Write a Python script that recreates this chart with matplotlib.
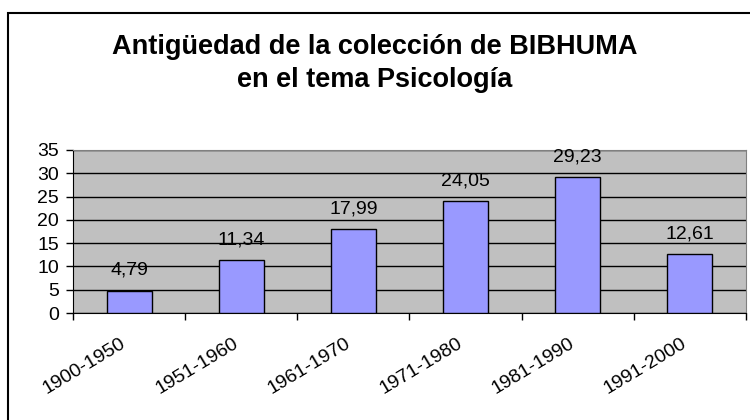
import matplotlib
matplotlib.use("Agg")
import matplotlib.pyplot as plt
from matplotlib.patches import Rectangle
import numpy as np

categories = ["1900-1950", "1951-1960", "1961-1970", "1971-1980", "1981-1990", "1991-2000"]
values = [4.79, 11.34, 17.99, 24.05, 29.23, 12.61]
yticks = [0, 5, 10, 15, 20, 25, 30, 35]

plt.rcParams['font.family'] = ['Liberation Sans', 'DejaVu Sans']

fig = plt.figure(figsize=(7.5, 4.2), dpi=100)
fig.patch.set_facecolor('white')
# outer frame
fig.patches.append(Rectangle((8/750, -0.05), 1.0, 1 - 13/420 + 0.05, transform=fig.transFigure,
                             fill=False, edgecolor='black', linewidth=1.5))

ax = fig.add_axes([73/750, 1 - 313/420, (746 - 73)/750, (313 - 150)/420])
ax.set_facecolor('#C0C0C0')
x = np.arange(len(categories))
ax.bar(x, values, width=0.4, color='#9999FF', edgecolor='black', linewidth=1, zorder=3)
for xi, v in zip(x, values):
    ax.text(xi, v + 3.4, f"{v:.2f}".replace('.', ','), ha='center', va='baseline', fontsize=14, zorder=4)

ax.set_xlim(-0.5, len(categories) - 0.5)
ax.set_ylim(0, 35)
ax.set_yticks(yticks)
ax.set_yticklabels([str(t) for t in yticks], fontsize=14)
ax.yaxis.grid(True, color='black', linewidth=1)
ax.set_axisbelow(True)
ax.tick_params(axis='y', length=5, width=1, pad=5)

ax.set_xticks(np.arange(len(categories) + 1) - 0.5)
ax.set_xticklabels([])
ax.tick_params(axis='x', length=5, width=1, direction='out')
for xi, c in zip(x, categories):
    ax.text(xi - 0.08, -4.6, c, rotation=31, ha='right', va='top', rotation_mode='anchor', fontsize=14)

for s in ['top', 'right']:
    ax.spines[s].set_color('#808080')
for s in ['left', 'bottom']:
    ax.spines[s].set_color('black')

fig.text(0.5, 1 - 47/420, "Antigüedad de la colección de BIBHUMA", ha='center', va='center',
         fontsize=19.5, fontweight='bold')
fig.text(0.5, 1 - 80/420, "en el tema Psicología", ha='center', va='center',
         fontsize=19.5, fontweight='bold')

fig.savefig("out.png", dpi=100)
